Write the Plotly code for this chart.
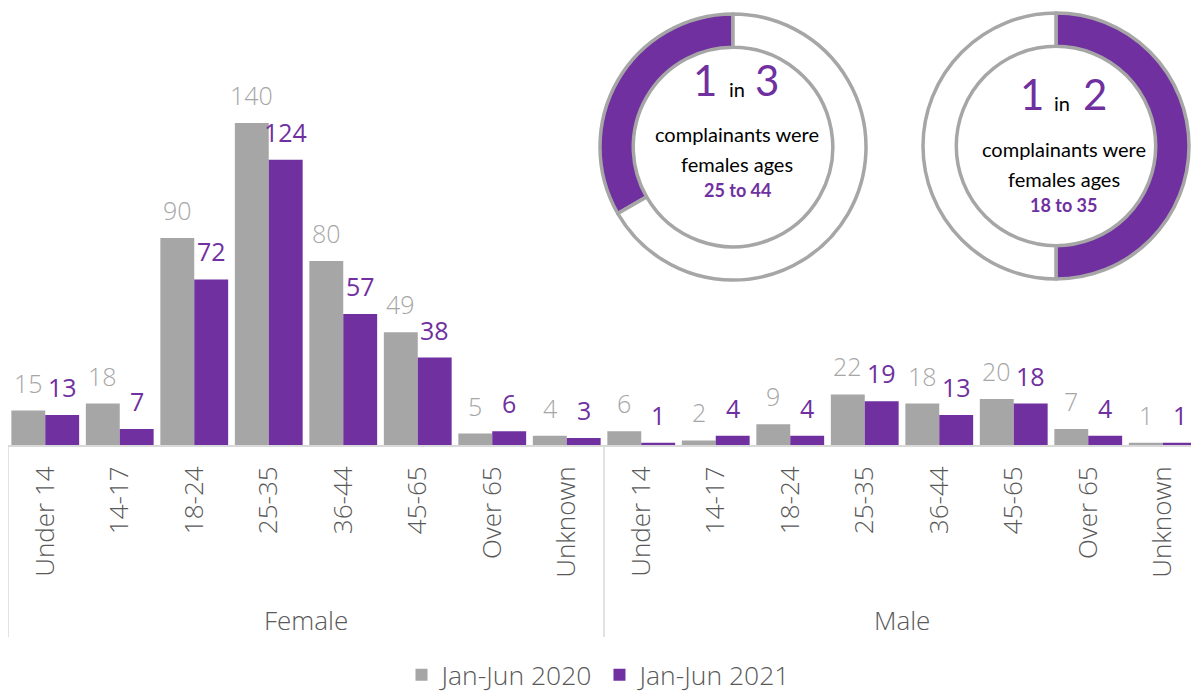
import plotly.graph_objects as go

# ---------------- data ----------------
age_groups = ["Under 14", "14-17", "18-24", "25-35", "36-44", "45-65", "Over 65", "Unknown"]
genders = ["Female", "Male"]
series_names = ["Jan-Jun 2020", "Jan-Jun 2021"]
jan_jun_2020 = [15, 18, 90, 140, 80, 49, 5, 4, 6, 2, 9, 22, 18, 20, 7, 1]
jan_jun_2021 = [13, 7, 72, 124, 57, 38, 6, 3, 1, 4, 4, 19, 13, 18, 4, 1]

donut1_values = [1, 2]   # 1 in 3
donut1_big = ["1", "3"]
donut1_lines = ["complainants were", "females ages", "25 to 44"]
donut2_values = [1, 1]   # 1 in 2
donut2_big = ["1", "2"]
donut2_lines = ["complainants were", "females ages", "18 to 35"]

# ---------------- styles ----------------
GRAY = "#a6a6a6"
PURPLE = "#7030a0"
TXT = "#595959"
LINE = "#d9d9d9"
W, H = 1191, 692
ML, MR, MT, MB = 8, 0, 0, 247
PW, PH = W - ML - MR, H - MT - MB
CAT_PX = 74.5            # width of one category in pixels
BARGAP = 0.09
FONT = "Open Sans"
DFONT = "Lato"

tick_labels = age_groups * len(genders)
positions = list(range(len(tick_labels)))


def px2x(px):
    return (px - ML) / PW


def py2y(py):
    return (MT + PH - py) / PH


fig = go.Figure()
fig.add_trace(go.Bar(x=positions, y=jan_jun_2020, name=series_names[0],
                     marker=dict(color=GRAY, line=dict(width=0))))
fig.add_trace(go.Bar(x=positions, y=jan_jun_2021, name=series_names[1],
                     marker=dict(color=PURPLE, line=dict(width=0))))

annotations = []
off = (1 - BARGAP) / 4
for vals, sign, col, wt in [(jan_jun_2020, -1, GRAY, 300), (jan_jun_2021, 1, PURPLE, 400)]:
    for p, v in zip(positions, vals):
        annotations.append(dict(x=p + sign * off, y=v, xref="x", yref="y", text=str(v),
                                showarrow=False, yanchor="bottom", yshift=9,
                                font=dict(family=FONT, size=25, color=col, weight=wt)))

# group labels
n = len(age_groups)
for gi, g in enumerate(genders):
    annotations.append(dict(x=gi * n + (n - 1) / 2, y=py2y(620), xref="x", yref="paper",
                            text=g, showarrow=False, yanchor="middle",
                            font=dict(family=FONT, size=26, color=TXT, weight=300)))

shapes = []
for gi in range(len(genders) + 1):
    shapes.append(dict(type="line", xref="x", yref="paper", x0=gi * n - 0.5, x1=gi * n - 0.5,
                       y0=0, y1=py2y(637), line=dict(color=LINE, width=1.5)))


# donuts
def add_donut(values, clockwise_start, cx, cy, R, colors):
    fig.add_trace(go.Pie(values=values, sort=False, direction="clockwise",
                         rotation=clockwise_start,
                         hole=0.75, textinfo="none", hoverinfo="skip", showlegend=False,
                         marker=dict(colors=colors, line=dict(color=GRAY, width=3.5)),
                         domain=dict(x=[px2x(cx - R), px2x(cx + R)],
                                     y=[py2y(cy + R), py2y(cy - R)])))


# donut 1: highlighted share runs counter-clockwise from 12 o'clock
add_donut(donut1_values, -360 * donut1_values[0] / sum(donut1_values), 733, 147, 133,
          [PURPLE, "white"])
# donut 2: highlighted share runs clockwise from 12 o'clock
add_donut(donut2_values, 0, 1056, 146, 133, [PURPLE, "white"])


def add_text(txt, cx, cy, size, color, weight=400):
    annotations.append(dict(x=px2x(cx), y=py2y(cy), xref="paper", yref="paper", text=txt,
                            showarrow=False, xanchor="center", yanchor="middle",
                            font=dict(family=DFONT, size=size, color=color, weight=weight)))


# donut 1 text
add_text(donut1_big[0], 705, 80, 42, PURPLE)
add_text("in", 736.5, 89, 20, "black")
add_text(donut1_big[1], 766.5, 80, 42, PURPLE)
add_text(donut1_lines[0], 736.5, 134, 20, "black")
add_text(donut1_lines[1], 736.5, 164, 20, "black")
add_text(donut1_lines[2], 737, 190, 18, PURPLE, 700)
# donut 2 text
add_text(donut2_big[0], 1032, 94, 42, PURPLE)
add_text("in", 1061.5, 103, 20, "black")
add_text(donut2_big[1], 1094.5, 94, 42, PURPLE)
add_text(donut2_lines[0], 1063.5, 149, 20, "black")
add_text(donut2_lines[1], 1063.5, 179, 20, "black")
add_text(donut2_lines[2], 1063, 205, 18, PURPLE, 700)

fig.update_layout(
    width=W, height=H,
    margin=dict(l=ML, r=MR, t=MT, b=MB, autoexpand=False),
    paper_bgcolor="white", plot_bgcolor="white",
    barmode="group", bargap=BARGAP, bargroupgap=0,
    xaxis=dict(range=[-0.5, -0.5 + PW / CAT_PX],
               tickmode="array", tickvals=positions, ticktext=tick_labels,
               tickangle=-90, ticks="", ticklabelstandoff=9,
               tickfont=dict(family=FONT, size=26, color=TXT, weight=300),
               showline=True, linecolor=LINE, linewidth=2, showgrid=False,
               zeroline=False, automargin=False, fixedrange=True),
    yaxis=dict(range=[0, PH / 2.3], visible=False, fixedrange=True),
    legend=dict(orientation="h", x=0.5, xanchor="center", y=py2y(675), yanchor="middle",
                font=dict(family=FONT, size=26.5, color=TXT, weight=300),
                itemclick=False, itemdoubleclick=False),
    annotations=annotations, shapes=shapes,
    showlegend=True,
)

fig.write_html("out.html", config={"displayModeBar": False},
               post_script="document.body.style.margin='0';document.body.style.overflow='hidden';")
